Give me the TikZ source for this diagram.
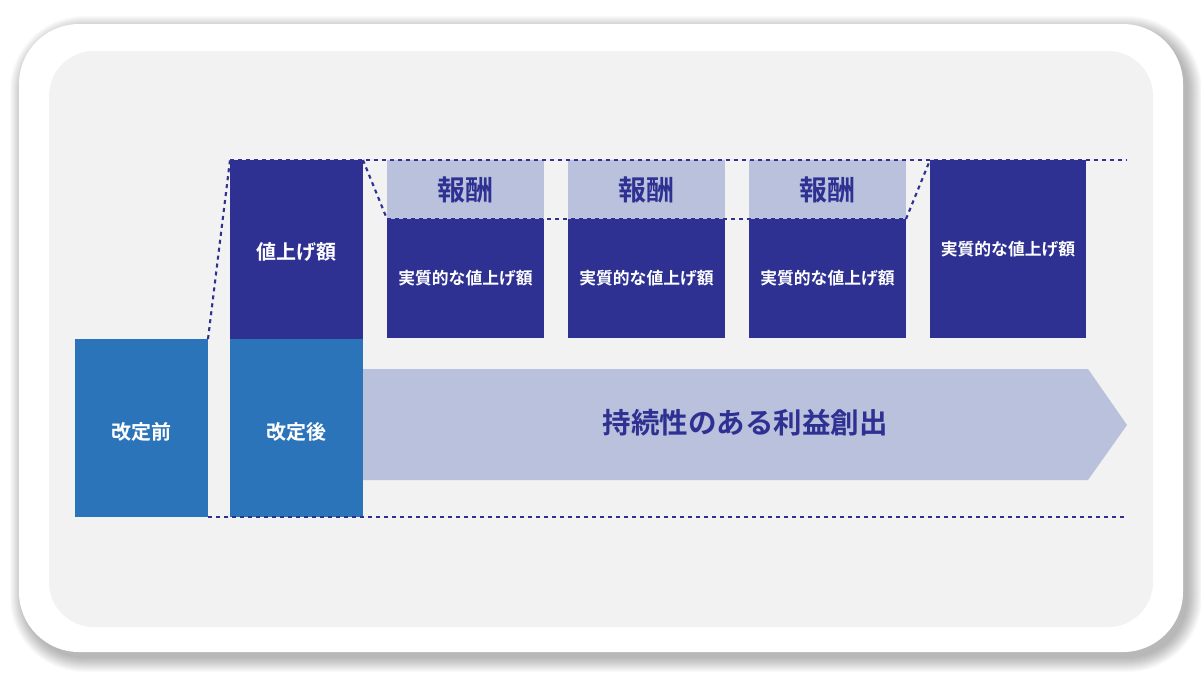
\documentclass[tikz,border=0pt]{standalone}
\usepackage{fontspec}
\newfontfamily\jp{Noto Sans CJK JP}[BoldFont={* Bold}]
\definecolor{navy}{HTML}{2E3192}
\definecolor{midblue}{HTML}{2B74B9}
\definecolor{lav}{HTML}{B9C1DC}
\definecolor{panel}{HTML}{F2F2F2}
\tikzset{
  box/.style={rectangle, inner sep=0pt, outer sep=0pt, font=\jp\bfseries, align=center},
  bluebox/.style={box, fill=midblue, text=white, minimum width=133pt, minimum height=178pt, font=\jp\bfseries\fontsize{20}{22}\selectfont},
  navybox/.style={box, fill=navy, text=white, font=\jp\bfseries\fontsize{16.8}{19}\selectfont},
  rewardbox/.style={box, fill=lav, text=navy, minimum width=157pt, minimum height=59pt, font=\jp\bfseries\fontsize{28}{30}\selectfont},
  dotline/.style={draw=navy, line width=2.1pt, dash pattern=on 4pt off 4pt},
}
\begin{document}
\begin{tikzpicture}[x=1pt,y=-1pt]
\useasboundingbox (0,0) rectangle (1201,678);
\fill[white] (0,0) rectangle (1201,678);
% shadow
\foreach \i in {0,...,14}{
  \fill[black, opacity=0.02, rounded corners=60+\i] (19+5-\i,24+6-\i) rectangle (1183+5+\i,652+6+\i);
}
\fill[white, rounded corners=60] (19,24) rectangle (1183,652);
\fill[panel, rounded corners=45] (49,51) rectangle (1153,627);

% arrow
\fill[lav] (363,369) -- (1088,369) -- (1127,425) -- (1088,480) -- (363,480) -- cycle;
\node[box, text=navy, font=\jp\bfseries\fontsize{28.5}{30}\selectfont] (arrowtext) at (745,423) {持続性のある利益創出};

% boxes
\node[bluebox] (before) at (141.5,428) {\raisebox{-11pt}[0pt][0pt]{改定前}};
\node[bluebox] (after) at (296.5,428) {\raisebox{-11pt}[0pt][0pt]{改定後}};
\node[navybox, minimum width=133pt, minimum height=179pt, font=\jp\bfseries\fontsize{20}{22}\selectfont] (raise) at (296.5,249.5) {\raisebox{-10pt}[0pt][0pt]{値上げ額}};

\node[rewardbox] (r1t) at (465.5,189.5) {報酬};
\node[navybox, minimum width=157pt, minimum height=119pt] (r1b) at (465.5,278.5) {実質的な値上げ額};
\node[rewardbox] (r2t) at (646.5,189.5) {報酬};
\node[navybox, minimum width=157pt, minimum height=119pt] (r2b) at (646.5,278.5) {実質的な値上げ額};
\node[rewardbox] (r3t) at (827.5,189.5) {報酬};
\node[navybox, minimum width=157pt, minimum height=119pt] (r3b) at (827.5,278.5) {実質的な値上げ額};
\node[navybox, minimum width=156pt, minimum height=178pt] (r4) at (1008,249) {実質的な値上げ額};

% dotted guide lines
\coordinate (topend) at (1127,160);
\coordinate (botend) at (1127,517);
\draw[dotline] (raise.north west) -- (topend);
\draw[dotline] (before.south east) -- (botend);
\draw[dotline] (before.north east) -- (raise.north west);
\draw[dotline] (raise.north east) -- (r1t.south west);
\draw[dotline] (r1t.south west) -- (r3t.south east);
\draw[dotline] (r3t.south east) -- (r4.north west);
\end{tikzpicture}
\end{document}
